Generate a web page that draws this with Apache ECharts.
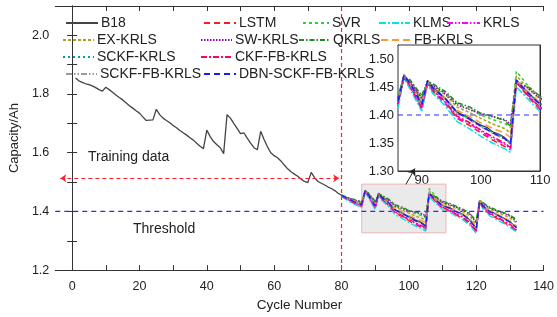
<!DOCTYPE html>
<html>
<head>
<meta charset="utf-8">
<script src="https://cdn.jsdelivr.net/npm/echarts@6/dist/echarts.min.js"></script>
<style>
  html, body { margin: 0; padding: 0; background: #fff; }
  #chart { width: 557px; height: 317px; }
</style>
</head>
<body>
<div id="chart"></div>
<script>
// B18 测量容量, 第 1..132 次循环
const b18Capacity = [
  1.855, 1.845, 1.840, 1.835, 1.832, 1.828, 1.822, 1.815, 1.810, 1.823,
  1.815, 1.806, 1.797, 1.788, 1.780, 1.770, 1.760, 1.752, 1.743, 1.735,
  1.722, 1.710, 1.711, 1.712, 1.748, 1.730, 1.718, 1.710, 1.702, 1.693,
  1.685, 1.676, 1.668, 1.660, 1.651, 1.643, 1.632, 1.622, 1.614, 1.677,
  1.655, 1.638, 1.627, 1.617, 1.597, 1.730, 1.718, 1.700, 1.683, 1.665,
  1.668, 1.650, 1.633, 1.617, 1.610, 1.673, 1.645, 1.620, 1.600, 1.590,
  1.583, 1.572, 1.558, 1.545, 1.535, 1.527, 1.520, 1.510, 1.502, 1.498,
  1.533, 1.515, 1.502, 1.496, 1.490, 1.483, 1.478, 1.471, 1.462, 1.455,
  1.448, 1.443, 1.438, 1.433, 1.428, 1.425, 1.472, 1.458, 1.445, 1.420,
  1.462, 1.448, 1.440, 1.430, 1.418, 1.405, 1.400, 1.395, 1.388, 1.382,
  1.378, 1.370, 1.366, 1.360, 1.350, 1.463, 1.450, 1.440, 1.430, 1.420,
  1.418, 1.413, 1.408, 1.400, 1.396, 1.390, 1.382, 1.372, 1.360, 1.340,
  1.437, 1.420, 1.410, 1.400, 1.396, 1.390, 1.385, 1.378, 1.372, 1.365,
  1.355, 1.345
];

// 预测阶段的循环次数
const predCycles = [80, 82, 84, 86, 87, 88, 90, 91, 92, 94, 96, 98, 100, 102, 104, 105, 106, 108, 110, 112, 114, 116, 118, 120, 121, 122, 124, 126, 128, 130, 132];

const lstm = [1.451, 1.438, 1.426, 1.416, 1.468, 1.450, 1.410, 1.456, 1.440, 1.420, 1.394, 1.382, 1.368, 1.355, 1.344, 1.338, 1.459, 1.432, 1.410, 1.402, 1.388, 1.376, 1.358, 1.330, 1.433, 1.411, 1.389, 1.377, 1.364, 1.350, 1.332];
const svr = [1.455, 1.446, 1.438, 1.432, 1.470, 1.462, 1.432, 1.458, 1.452, 1.440, 1.420, 1.412, 1.400, 1.392, 1.385, 1.378, 1.478, 1.452, 1.432, 1.425, 1.415, 1.405, 1.392, 1.365, 1.440, 1.428, 1.412, 1.402, 1.395, 1.385, 1.368];
const klms = [1.450, 1.436, 1.423, 1.413, 1.466, 1.447, 1.407, 1.454, 1.437, 1.416, 1.388, 1.376, 1.362, 1.350, 1.340, 1.333, 1.450, 1.428, 1.406, 1.398, 1.384, 1.372, 1.353, 1.326, 1.430, 1.408, 1.385, 1.372, 1.360, 1.346, 1.328];
const krls = [1.453, 1.440, 1.428, 1.419, 1.470, 1.452, 1.412, 1.458, 1.442, 1.422, 1.396, 1.385, 1.371, 1.358, 1.348, 1.340, 1.461, 1.434, 1.412, 1.404, 1.390, 1.379, 1.361, 1.332, 1.434, 1.413, 1.391, 1.380, 1.367, 1.353, 1.334];
const exKrls = [1.455, 1.445, 1.436, 1.428, 1.470, 1.460, 1.428, 1.460, 1.450, 1.436, 1.414, 1.405, 1.394, 1.384, 1.376, 1.368, 1.470, 1.447, 1.428, 1.420, 1.410, 1.400, 1.385, 1.356, 1.440, 1.425, 1.408, 1.398, 1.388, 1.378, 1.360];
const swKrls = [1.454, 1.446, 1.437, 1.430, 1.465, 1.460, 1.430, 1.456, 1.452, 1.438, 1.418, 1.410, 1.402, 1.397, 1.392, 1.384, 1.455, 1.448, 1.430, 1.424, 1.414, 1.404, 1.392, 1.362, 1.430, 1.426, 1.412, 1.402, 1.394, 1.384, 1.365];
const qkrls = [1.456, 1.447, 1.440, 1.434, 1.468, 1.463, 1.435, 1.460, 1.455, 1.442, 1.422, 1.415, 1.403, 1.398, 1.390, 1.380, 1.460, 1.450, 1.434, 1.428, 1.418, 1.408, 1.395, 1.368, 1.435, 1.430, 1.415, 1.405, 1.397, 1.388, 1.372];
const fbKrls = [1.453, 1.443, 1.434, 1.426, 1.468, 1.457, 1.423, 1.458, 1.446, 1.430, 1.408, 1.398, 1.386, 1.376, 1.368, 1.360, 1.462, 1.442, 1.422, 1.414, 1.402, 1.393, 1.377, 1.348, 1.435, 1.421, 1.403, 1.392, 1.381, 1.369, 1.350];
const sckfKrls = [1.452, 1.441, 1.432, 1.424, 1.466, 1.455, 1.420, 1.456, 1.445, 1.428, 1.404, 1.394, 1.381, 1.369, 1.359, 1.350, 1.458, 1.439, 1.419, 1.411, 1.399, 1.389, 1.372, 1.342, 1.432, 1.418, 1.399, 1.389, 1.377, 1.364, 1.344];
const ckfFbKrls = [1.452, 1.440, 1.429, 1.420, 1.467, 1.453, 1.414, 1.457, 1.443, 1.424, 1.398, 1.387, 1.373, 1.361, 1.350, 1.342, 1.458, 1.435, 1.414, 1.405, 1.392, 1.381, 1.364, 1.334, 1.432, 1.414, 1.393, 1.382, 1.370, 1.356, 1.337];
const sckfFbKrls = [1.454, 1.442, 1.431, 1.423, 1.469, 1.456, 1.418, 1.459, 1.446, 1.427, 1.402, 1.392, 1.379, 1.367, 1.357, 1.348, 1.460, 1.438, 1.418, 1.410, 1.398, 1.387, 1.370, 1.340, 1.434, 1.418, 1.398, 1.388, 1.376, 1.362, 1.343];
const dbnSckfFbKrls = [1.455, 1.443, 1.432, 1.424, 1.471, 1.457, 1.419, 1.461, 1.447, 1.429, 1.404, 1.393, 1.380, 1.368, 1.358, 1.349, 1.462, 1.439, 1.419, 1.412, 1.399, 1.389, 1.371, 1.341, 1.436, 1.419, 1.399, 1.389, 1.377, 1.364, 1.344];

// 刻度
const xTickLabels = [0, 20, 40, 60, 80, 100, 120, 140];
const xTicks = [0, 10, 20, 30, 40, 50, 60, 70, 80, 90, 100, 110, 120, 130, 140];
const yTickLabels = [1.2, 1.4, 1.6, 1.8, 2.0];
const yTicks = [1.2, 1.3, 1.4, 1.5, 1.6, 1.7, 1.8, 1.9, 2.0, 2.1];
const insetXTickLabels = [90, 100, 110];
const insetXTicks = [90, 95, 100, 105, 110];
const insetYTickLabels = [1.30, 1.35, 1.40, 1.45, 1.50];

const threshold = 1.4;
const trainEnd = 80;

const FONT = "Liberation Sans, Arial, sans-serif";
const RED = "#ff1f2a";
const BLUE = "#2a2aff";

// 预测曲线样式
const predList = [
  { name: "LSTM", data: lstm, color: "#ff1a1a", dash: [6, 4] },
  { name: "SVR", data: svr, color: "#33cc33", dash: [3, 3] },
  { name: "KLMS", data: klms, color: "#00e5e5", dash: [7, 2, 2, 2] },
  { name: "KRLS", data: krls, color: "#ff00ff", dash: [6, 2, 1.5, 2, 1.5, 2] },
  { name: "EX-KRLS", data: exKrls, color: "#a6a21f", dash: [3, 2] },
  { name: "SW-KRLS", data: swKrls, color: "#9900cc", dash: [1.5, 1.5] },
  { name: "QKRLS", data: qkrls, color: "#1f8a1f", dash: [5, 2, 1.5, 2] },
  { name: "FB-KRLS", data: fbKrls, color: "#ff9933", dash: [7, 4] },
  { name: "SCKF-KRLS", data: sckfKrls, color: "#00a0a0", dash: [2, 3] },
  { name: "CKF-FB-KRLS", data: ckfFbKrls, color: "#ff0066", dash: [6, 2, 2, 2] },
  { name: "SCKF-FB-KRLS", data: sckfFbKrls, color: "#9a9a9a", dash: [6, 2, 1.5, 2, 1.5, 2] },
  { name: "DBN-SCKF-FB-KRLS", data: dbnSckfFbKrls, color: "#1a1aff", dash: [6, 4] }
];

const b18Points = b18Capacity.map((v, i) => [i + 1, v]);

// 图例位置
const legendPos = [
  { name: "B18", left: 65, row: 0, w: 32 },
  { name: "LSTM", left: 203, row: 0, w: 32 },
  { name: "SVR", left: 302, row: 0, w: 26 },
  { name: "KLMS", left: 378, row: 0, w: 31 },
  { name: "KRLS", left: 446, row: 0, w: 33 },
  { name: "EX-KRLS", left: 62, row: 1, w: 31 },
  { name: "SW-KRLS", left: 200, row: 1, w: 31 },
  { name: "QKRLS", left: 298, row: 1, w: 31 },
  { name: "FB-KRLS", left: 380, row: 1, w: 30 },
  { name: "SCKF-KRLS", left: 62, row: 2, w: 31 },
  { name: "CKF-FB-KRLS", left: 200, row: 2, w: 31 },
  { name: "SCKF-FB-KRLS", left: 65, row: 3, w: 31 },
  { name: "DBN-SCKF-FB-KRLS", left: 203, row: 3, w: 32 }
];
const rowY = [23, 40, 57, 74];

const axisLineStyle = { lineStyle: { color: "#333", width: 1 } };
const labelStyle = { color: "#222", fontFamily: FONT };

const chart = echarts.init(document.getElementById("chart"), null, { renderer: "canvas" });

/** 带箭头的标注线 */
const seg = (from, to, style, startSym, endSym, size) => [
  { coord: from, symbol: startSym, symbolSize: size, lineStyle: style, itemStyle: { color: style.color } },
  { coord: to, symbol: endSym, symbolSize: size, lineStyle: style, itemStyle: { color: style.color } }
];
/** 参考直线 (用普通折线绘制) */
const guide = (pts, color, dash, axis, z) => ({
  type: "line",
  silent: true,
  xAxisIndex: axis,
  yAxisIndex: axis,
  data: pts,
  symbol: "none",
  z: z,
  lineStyle: { color: color, type: dash, width: 1.2 },
  itemStyle: { color: color },
  emphasis: { disabled: true },
  tooltip: { show: false }
});

const series = [];
// 主图 B18
series.push({
  name: "B18",
  type: "line",
  xAxisIndex: 0,
  yAxisIndex: 0,
  data: b18Points,
  symbol: "none",
  z: 2,
  lineStyle: { color: "#444", width: 1.3, type: "solid" },
  itemStyle: { color: "#444" },
  markArea: {
    silent: true,
    itemStyle: { color: "#eaeaea", borderColor: "#f0b4b4", borderWidth: 1 },
    data: [[{ coord: [86, 1.327] }, { coord: [111, 1.493] }]]
  },
  markLine: {
    silent: true,
    animation: false,
    label: { show: false },
    data: [
      seg([-3.5, 1.513], [79.3, 1.513], { color: RED, type: [4, 3], width: 1 }, "arrow", "arrow", 6),
      seg([99.1, 1.492], [101.8, 1.546], { color: "#222", type: "solid", width: 1 }, "none", "arrow", 7)
    ]
  }
});
predList.forEach(p => {
  series.push({
    name: p.name,
    type: "line",
    xAxisIndex: 0,
    yAxisIndex: 0,
    data: predCycles.map((c, i) => [c, p.data[i]]),
    symbol: "none",
    z: 3,
    lineStyle: { color: p.color, width: 1.3, type: p.dash },
    itemStyle: { color: p.color }
  });
});
series.push(guide([[trainEnd, 1.2], [trainEnd, 2.1]], RED, [4, 3], 0, 1));
series.push(guide([[-5, threshold], [140, threshold]], BLUE, [5, 4], 0, 1));
// 放大子图
series.push({
  name: "B18",
  type: "line",
  xAxisIndex: 2,
  yAxisIndex: 2,
  data: b18Points,
  symbol: "none",
  z: 4,
  lineStyle: { color: "#444", width: 1.3 },
  itemStyle: { color: "#444" }
});
series.push(guide([[86, threshold], [110, threshold]], BLUE, [5, 4], 2, 4));
predList.forEach(p => {
  series.push({
    name: p.name,
    type: "line",
    xAxisIndex: 2,
    yAxisIndex: 2,
    data: predCycles.map((c, i) => [c, p.data[i]]),
    symbol: "none",
    z: 5,
    lineStyle: { color: p.color, width: 1.5, type: p.dash },
    itemStyle: { color: p.color }
  });
});

const option = {
  animation: false,
  backgroundColor: "#fff",
  textStyle: { fontFamily: FONT },
  tooltip: { show: false },
  axisPointer: { show: false },
  grid: [
    { left: 50, right: 12, top: 6, bottom: 41 },
    { left: 398, top: 45, width: 142, height: 126, show: true, backgroundColor: "#fff",
      borderColor: "#333", borderWidth: 1, z: 3 }
  ],
  legend: legendPos.map(l => ({
    data: [l.name],
    left: l.left,
    top: rowY[l.row] - 7,
    padding: 0,
    itemWidth: l.w,
    itemHeight: 14,
    itemGap: 0,
    selectedMode: false,
    itemStyle: { opacity: 0 },
    textStyle: { fontSize: 14, color: "#222", fontFamily: FONT, padding: [0, 0, 0, -2] }
  })),
  xAxis: [
    {
      gridIndex: 0, type: "value", position: "bottom", min: -5, max: 140,
      axisLine: axisLineStyle,
      axisTick: { inside: true, length: 5, customValues: xTicks, lineStyle: { color: "#333" } },
      axisLabel: Object.assign({ customValues: xTickLabels, margin: 10 }, labelStyle, { fontSize: 12.5 }),
      splitLine: { show: false },
      name: "Cycle Number", nameLocation: "middle", nameGap: 16,
      nameTextStyle: { fontSize: 13.5, color: "#222", fontFamily: FONT }
    },
    {
      gridIndex: 0, type: "value", position: "top", min: -5, max: 140,
      axisLine: axisLineStyle,
      axisTick: { inside: true, length: 5, customValues: xTicks, lineStyle: { color: "#333" } },
      axisLabel: { show: false },
      splitLine: { show: false }
    },
    {
      gridIndex: 1, type: "value", position: "bottom", min: 86, max: 110,
      axisLine: axisLineStyle,
      axisTick: { inside: true, length: 4, customValues: insetXTicks, lineStyle: { color: "#333" } },
      axisLabel: Object.assign({ customValues: insetXTickLabels, margin: 3 }, labelStyle, { fontSize: 13 }),
      splitLine: { show: false }
    },
    {
      gridIndex: 1, type: "value", position: "top", min: 86, max: 110,
      axisLine: axisLineStyle,
      axisTick: { inside: true, length: 4, customValues: insetXTicks, lineStyle: { color: "#333" } },
      axisLabel: { show: false },
      splitLine: { show: false }
    }
  ],
  yAxis: [
    {
      gridIndex: 0, type: "value", position: "left", min: 1.2, max: 2.1,
      axisLine: axisLineStyle,
      axisTick: { inside: true, length: 5, customValues: yTicks, lineStyle: { color: "#333" } },
      axisLabel: Object.assign({ customValues: yTickLabels, margin: 6,
        formatter: v => Number(v).toFixed(1) }, labelStyle, { fontSize: 12.5 }),
      splitLine: { show: false },
      name: "Capacity/Ah", nameLocation: "middle", nameGap: 27,
      nameTextStyle: { fontSize: 13, color: "#222", fontFamily: FONT }
    },
    {
      gridIndex: 0, type: "value", position: "right", min: 1.2, max: 2.1,
      axisLine: axisLineStyle,
      axisTick: { inside: true, length: 5, customValues: yTicks, lineStyle: { color: "#333" } },
      axisLabel: { show: false },
      splitLine: { show: false }
    },
    {
      gridIndex: 1, type: "value", position: "left", min: 1.3, max: 1.525,
      axisLine: axisLineStyle,
      axisTick: { inside: true, length: 4, customValues: insetYTickLabels, lineStyle: { color: "#333" } },
      axisLabel: Object.assign({ customValues: insetYTickLabels, margin: 4,
        formatter: v => Number(v).toFixed(2) }, labelStyle, { fontSize: 13 }),
      splitLine: { show: false }
    },
    {
      gridIndex: 1, type: "value", position: "right", min: 1.3, max: 1.525,
      axisLine: axisLineStyle,
      axisTick: { inside: true, length: 4, customValues: insetYTickLabels, lineStyle: { color: "#333" } },
      axisLabel: { show: false },
      splitLine: { show: false }
    }
  ],
  graphic: [
    { type: "text", left: 88, top: 150, style: { text: "Training data", fontSize: 14, fill: "#222", fontFamily: FONT } },
    { type: "text", left: 133, top: 222, style: { text: "Threshold", fontSize: 14, fill: "#222", fontFamily: FONT } }
  ],
  series: series
};

chart.setOption(option);
</script>
</body>
</html>
